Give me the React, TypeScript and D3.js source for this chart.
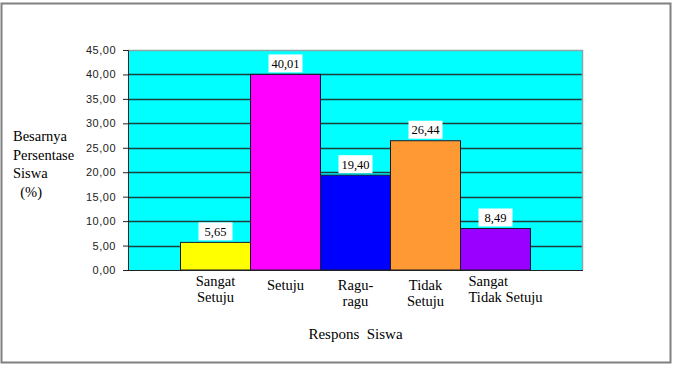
import React, { useEffect, useRef } from 'react';
import * as d3 from 'd3';

const categories = ['Sangat Setuju', 'Setuju', 'Ragu-ragu', 'Tidak Setuju', 'Sangat Tidak Setuju'];
const categoryLines = [['Sangat', 'Setuju'], ['Setuju'], ['Ragu-', 'ragu'], ['Tidak', 'Setuju'], ['Sangat', 'Tidak Setuju']];
const values = [5.65, 40.01, 19.4, 26.44, 8.49];
const barColors = ['#ffff00', '#ff00ff', '#0000ff', '#ff9933', '#9900ff'];
const yTicks = [0, 5, 10, 15, 20, 25, 30, 35, 40, 45];
const yTitleLines = ['Besarnya', 'Persentase', 'Siswa', '\u00a0\u00a0(%)'];

const fmt = (v: number) => v.toFixed(2).replace('.', ',');

const App: React.FC = () => {
  const ref = useRef<SVGSVGElement | null>(null);

  useEffect(() => {
    if (!ref.current) return;
    const svg = d3.select(ref.current);
    svg.selectAll('*').remove();

    const width = 678;
    const height = 370;
    const margin = { top: 50, left: 128, right: 95, bottom: 100 };
    const chartW = width - margin.left - margin.right;
    const chartH = height - margin.top - margin.bottom;
    const serif = "'Liberation Serif', 'Times New Roman', Times, serif";
    const sans = "'Liberation Sans', Arial, sans-serif";

    svg.append('rect').attr('width', width).attr('height', height).attr('fill', '#fff');
    // outer frame
    svg.append('rect')
      .attr('x', 1.5).attr('y', 3.5).attr('width', 669).attr('height', 359)
      .attr('fill', 'none').attr('stroke', '#808080').attr('stroke-width', 2);

    const x = d3.scaleBand().domain(categories).range([0, chartW]).paddingInner(0).paddingOuter(0.75);
    const y = d3.scaleLinear().domain([0, 45]).range([chartH, 0]);

    const g = svg.append('g').attr('transform', `translate(${margin.left},${margin.top})`);

    // plot area
    g.append('rect').attr('width', chartW).attr('height', chartH).attr('fill', '#00ffff');

    // gridlines
    g.selectAll('.grid')
      .data(yTicks.filter(t => t > 0 && t < 45))
      .enter().append('line')
      .attr('x1', 0).attr('x2', chartW)
      .attr('y1', d => Math.round(y(d)) + 0.5).attr('y2', d => Math.round(y(d)) + 0.5)
      .attr('stroke', '#1f3f3f').attr('stroke-width', 1.5);

    // top & right edges of plot area
    g.append('path')
      .attr('d', `M0,0.5H${chartW - 0.5}V${chartH}`)
      .attr('fill', 'none').attr('stroke', '#8aa8a8').attr('stroke-width', 1.5);

    // bars
    g.selectAll('.bar')
      .data(values)
      .enter().append('rect')
      .attr('x', (d, i) => x(categories[i])!)
      .attr('y', d => y(d))
      .attr('width', x.bandwidth())
      .attr('height', d => chartH - y(d))
      .attr('fill', (d, i) => barColors[i])
      .attr('stroke', '#1a1a2a').attr('stroke-width', 1);

    // value labels
    const lab = g.selectAll('.lab').data(values).enter().append('g')
      .attr('transform', (d, i) => `translate(${x(categories[i])! + x.bandwidth() / 2},${y(d) - 11})`);
    lab.append('rect')
      .attr('x', -17).attr('y', -9).attr('width', 34).attr('height', 18)
      .attr('fill', '#fff');
    lab.append('text')
      .attr('text-anchor', 'middle').attr('dy', '0.35em')
      .style('font-family', serif).style('font-size', '12.5px').attr('fill', '#000')
      .text(d => fmt(d));

    // y axis
    const yAxis = g.append('g').call(
      d3.axisLeft(y).tickValues(yTicks).tickSize(5).tickFormat(d => fmt(d as number))
    );
    yAxis.select('.domain').attr('stroke', '#222');
    yAxis.selectAll('.tick line').attr('stroke', '#222');
    yAxis.selectAll('.tick text')
      .style('font-family', sans).style('font-size', '11px').attr('fill', '#222')
      .attr('x', -12).attr('letter-spacing', '0.5px');

    // x baseline
    g.append('line')
      .attr('x1', 0).attr('x2', chartW).attr('y1', chartH + 0.5).attr('y2', chartH + 0.5)
      .attr('stroke', '#222');

    // category labels
    categoryLines.forEach((lines, i) => {
      const x0 = margin.left + x(categories[i])!;
      const cx = x0 + x.bandwidth() / 2;
      const last = i === categories.length - 1;
      const t = svg.append('text')
        .style('font-family', serif).style('font-size', '14.5px').attr('fill', '#000')
        .attr('text-anchor', last ? 'start' : 'middle');
      lines.forEach((l, j) => {
        const yy = lines.length === 1 ? 286 : (i === 3 || i === 2 ? 286 : 282) + j * 16;
        t.append('tspan').attr('x', last ? x0 + 8 : cx).attr('y', yy + 4).text(l);
      });
    });

    // axis titles
    svg.append('text')
      .attr('x', margin.left + chartW / 2).attr('y', 339)
      .attr('text-anchor', 'middle')
      .style('font-family', serif).style('font-size', '15px').attr('fill', '#000')
      .text('Respons\u00a0\u00a0Siswa');

    const yt = svg.append('text')
      .style('font-family', serif).style('font-size', '14.5px').attr('fill', '#000');
    yTitleLines.forEach((l, j) => {
      yt.append('tspan').attr('x', 13).attr('y', 141 + j * 18.5).text(l);
    });
  }, []);

  return (
    <svg
      ref={ref}
      width={678}
      height={370}
      style={{ position: 'absolute', left: 0, top: 0, display: 'block' }}
    />
  );
};

export default App;
